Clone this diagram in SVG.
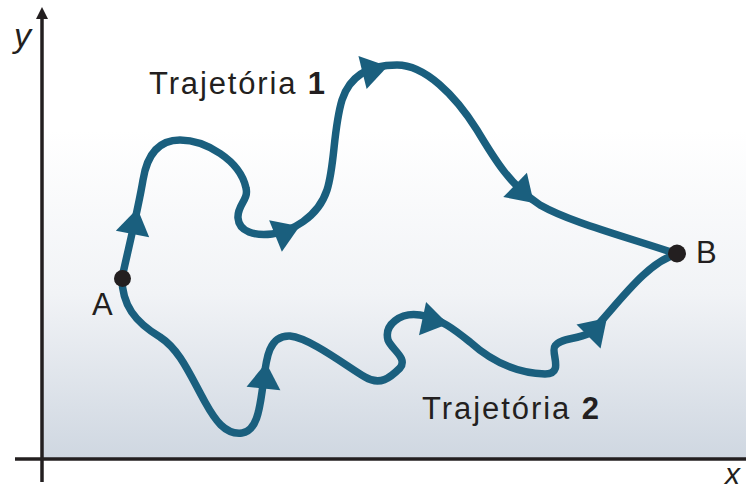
<svg xmlns="http://www.w3.org/2000/svg" xmlns:xlink="http://www.w3.org/1999/xlink" width="746" height="492" viewBox="0 0 746 492">
<style>
.path{fill:none;stroke:#1a5f7e;stroke-width:7.5;stroke-linecap:round;stroke-linejoin:round}
.ah{fill:#1a5f7e}
.axis{stroke:#231f20;stroke-width:3.5;fill:none}
.lbl{font-family:"Liberation Sans","Open Sans",sans-serif;font-size:31px;fill:#231f20}
.var{font-family:"Liberation Sans","Open Sans",sans-serif;font-style:italic;fill:#231f20}
.dot{fill:#231f20}
</style>
<defs>
<linearGradient id="bg" gradientUnits="userSpaceOnUse" x1="0" y1="130" x2="0" y2="458">
<stop offset="0" stop-color="#ffffff"/>
<stop offset="0.5" stop-color="#f1f3f6"/>
<stop offset="1" stop-color="#cfd7e1"/>
</linearGradient>
<path id="ah" d="M15,0 L-11,-17 L-11,17 Z"/>
</defs>
<rect x="0" y="0" width="746" height="492" fill="#ffffff"/>
<rect x="43" y="0" width="703" height="458" fill="url(#bg)"/>
<g id="axes">
<line class="axis" x1="42" y1="16" x2="42" y2="482"/>
<polygon points="42,7 36,19 48,19" fill="#231f20"/>
<line class="axis" x1="15" y1="459" x2="746" y2="459"/>
<text class="var" x="14" y="47" font-size="34">y</text>
<text class="var" x="725" y="484" font-size="30">x</text>
</g>
<g id="connectors">
<path id="traj1" class="path" d="M122 278 C128 250,138 210,143 180 C147 155,158 140,180 140 C205 140,240 160,246 188 C249 200,237 205,238 218 C239 232,255 236,272 234 C290 232,318 218,327 190 C335 165,333 130,342 100 C350 75,370 65,397 65 C425 65,455 95,477 130 C495 160,510 185,540 205 C570 222,620 235,677 254"/>
<path id="traj2" class="path" d="M122 278 C122 305,135 322,160 337 C180 350,190 375,205 402 C215 420,225 435,242 433 C258 431,260 405,263 385 C266 360,268 335,290 336 C310 338,345 365,365 377 C380 386,390 378,400 368 C408 358,392 350,388 340 C384 325,400 312,420 315 C440 318,455 330,470 342 C490 360,515 373,545 374 C565 374,550 352,555 346 C560 338,575 340,590 333 C612 312,645 262,677 254"/>
<use class="ah" xlink:href="#ah" transform="translate(134.6 223.2) rotate(-79)"/>
<use class="ah" xlink:href="#ah" transform="translate(285.7 231.9) rotate(-22)"/>
<use class="ah" xlink:href="#ah" transform="translate(373.2 69.8) rotate(-14)"/>
<use class="ah" xlink:href="#ah" transform="translate(523 192.5) rotate(44)"/>
<use class="ah" xlink:href="#ah" transform="translate(596.3 328.7) rotate(-45)"/>
<use class="ah" xlink:href="#ah" transform="translate(433.3 320.8) rotate(12)"/>
<use class="ah" xlink:href="#ah" transform="translate(264.6 377.6) rotate(-84)"/>
</g>
<g id="A">
<circle class="dot" cx="122.5" cy="278.5" r="8.5"/>
<text class="lbl" x="92" y="315">A</text>
</g>
<g id="B">
<circle class="dot" cx="677" cy="253.5" r="9"/>
<text class="lbl" x="696" y="263">B</text>
</g>
<g id="label1">
<text class="lbl" x="149" y="94" textLength="176" lengthAdjust="spacing">Trajetória <tspan font-weight="bold">1</tspan></text>
</g>
<g id="label2">
<text class="lbl" x="422" y="419" textLength="177" lengthAdjust="spacing">Trajetória <tspan font-weight="bold">2</tspan></text>
</g>
</svg>
